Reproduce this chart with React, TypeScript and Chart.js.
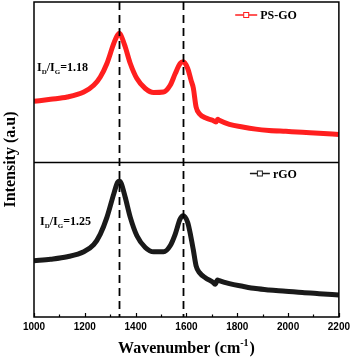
import React, { useEffect, useRef } from 'react';
import { Chart, registerables } from 'chart.js';

Chart.register(...registerables);

const xTicks = [1000, 1200, 1400, 1600, 1800, 2000, 2200];
const peakPositions = [1335, 1585];

const psgoWavenumber = [1000, 1065, 1131, 1196, 1235, 1261, 1287, 1314, 1329, 1336, 1343, 1359, 1379, 1405, 1438, 1471, 1510, 1536, 1556, 1575, 1587, 1605, 1618, 1627, 1638, 1651, 1677, 1703, 1716, 1723, 1729, 1769, 1821, 1873, 1925, 1991, 2056, 2122, 2200];
const psgoIntensity = [38.1, 39.4, 40.8, 43.9, 48.1, 53.3, 61.7, 74.2, 79.4, 80.6, 79.0, 72.1, 61.7, 52.3, 46.1, 43.6, 43.9, 48.1, 55.4, 61.7, 62.7, 58.6, 51.3, 46.5, 34.6, 30.4, 27.7, 26.3, 25.2, 26.9, 26.3, 23.8, 22.1, 20.8, 20.0, 19.4, 18.8, 18.3, 17.5];

const rgoWavenumber = [1000, 1065, 1131, 1196, 1235, 1261, 1287, 1314, 1329, 1336, 1343, 1359, 1379, 1405, 1438, 1471, 1510, 1536, 1556, 1575, 1587, 1605, 1618, 1627, 1638, 1651, 1677, 1703, 1713, 1722, 1729, 1769, 1821, 1873, 1925, 1991, 2056, 2122, 2200];
const rgoIntensity = [36.4, 37.4, 39.0, 42.2, 46.8, 53.7, 64.5, 79.7, 87.2, 87.8, 86.6, 77.5, 64.5, 52.6, 45.0, 42.2, 42.2, 46.1, 53.7, 63.4, 65.6, 61.2, 51.5, 43.5, 33.1, 28.8, 25.1, 22.7, 21.2, 24.0, 23.5, 21.6, 19.9, 18.4, 17.5, 16.7, 15.8, 15.1, 14.3];

const ratioLabels = ['1.18', '1.25'];
const seriesNames = ['PS-GO', 'rGO'];
const seriesColors = ['#ff1f1f', '#1a1a1a'];

const SERIF = '"Liberation Serif", "Times New Roman", serif';
const SANS = '"Liberation Sans", Arial, sans-serif';

function drawRatio(ctx: CanvasRenderingContext2D, x: number, y: number, value: string) {
  const main = `bold 12px ${SERIF}`;
  const sub = `bold 7px ${SERIF}`;
  ctx.fillStyle = '#000';
  ctx.textBaseline = 'alphabetic';
  ctx.textAlign = 'left';
  let cx = x;
  const piece = (t: string, font: string, dy: number) => {
    ctx.font = font;
    ctx.fillText(t, cx, y + dy);
    cx += ctx.measureText(t).width;
  };
  piece('I', main, 0);
  piece('D', sub, 3);
  piece('/I', main, 0);
  piece('G', sub, 3);
  piece('=' + value, main, 0);
}

function drawLegend(ctx: CanvasRenderingContext2D, xEnd: number, y: number, name: string, color: string, lineLen: number) {
  ctx.font = `bold 12px ${SERIF}`;
  const tw = ctx.measureText(name).width;
  const textX = xEnd - tw;
  const lineEnd = textX - 3;
  const lineStart = lineEnd - lineLen;
  ctx.strokeStyle = color;
  ctx.lineWidth = 1.5;
  ctx.beginPath();
  ctx.moveTo(lineStart, y);
  ctx.lineTo(lineEnd, y);
  ctx.stroke();
  const mx = (lineStart + lineEnd) / 2;
  ctx.fillStyle = '#ffffff';
  ctx.fillRect(mx - 2.5, y - 2.5, 5, 5);
  ctx.lineWidth = 1;
  ctx.strokeRect(mx - 2.5, y - 2.5, 5, 5);
  ctx.fillStyle = '#000';
  ctx.textBaseline = 'middle';
  ctx.textAlign = 'left';
  ctx.fillText(name, textX, y + 1);
}

const overlayPlugin = {
  id: 'overlay',
  afterDatasetsDraw(chart: any) {
    const { ctx, chartArea: a, scales } = chart;
    ctx.save();
    ctx.strokeStyle = '#000';
    ctx.lineWidth = 1.8;
    ctx.setLineDash([8, 5]);
    for (const w of peakPositions) {
      const px = Math.round(scales.x.getPixelForValue(w)) + 0.5;
      ctx.beginPath();
      ctx.moveTo(px, a.top);
      ctx.lineTo(px, a.bottom);
      ctx.stroke();
    }
    ctx.restore();
  },
  afterDraw(chart: any) {
    const { ctx, chartArea: a, scales } = chart;
    const topScale = scales.yTop;
    const botScale = scales.yBot;
    const divider = topScale.bottom;
    const topTop = topScale.top;
    const botTop = botScale.top;
    ctx.save();
    ctx.strokeStyle = '#000';
    ctx.lineWidth = 1.5;
    ctx.strokeRect(a.left, a.top, a.right - a.left, a.bottom - a.top);
    ctx.beginPath();
    ctx.moveTo(a.left, divider);
    ctx.lineTo(a.right, divider);
    ctx.stroke();
    ctx.lineWidth = 1.2;
    for (let w = 1000; w <= 2200; w += 100) {
      const px = Math.round(scales.x.getPixelForValue(w)) + 0.5;
      const len = w % 200 === 0 ? 4 : 2.5;
      ctx.beginPath();
      ctx.moveTo(px, a.bottom);
      ctx.lineTo(px, a.bottom - len);
      ctx.stroke();
    }
    drawLegend(ctx, a.right - 42, topTop + 13, seriesNames[0], seriesColors[0], 22);
    drawLegend(ctx, a.right - 42, botTop + 11, seriesNames[1], seriesColors[1], 20);
    drawRatio(ctx, a.left + 3, topTop + 69, ratioLabels[0]);
    drawRatio(ctx, a.left + 6, botTop + 62, ratioLabels[1]);
    ctx.fillStyle = '#000';
    ctx.textBaseline = 'alphabetic';
    ctx.textAlign = 'left';
    const mainFont = `bold 16px ${SERIF}`;
    const supFont = `bold 10px ${SERIF}`;
    ctx.font = mainFont;
    const t1 = 'Wavenumber (cm';
    const t3 = ')';
    const w1 = ctx.measureText(t1).width;
    const w3 = ctx.measureText(t3).width;
    ctx.font = supFont;
    const t2 = '-1';
    const w2 = ctx.measureText(t2).width;
    const total = w1 + w2 + w3 + 1;
    let cx = (a.left + a.right) / 2 - total / 2;
    const by = 353;
    ctx.font = mainFont;
    ctx.fillText(t1, cx, by);
    cx += w1;
    ctx.font = supFont;
    ctx.fillText(t2, cx, by - 7);
    cx += w2 + 1;
    ctx.font = mainFont;
    ctx.fillText(t3, cx, by);
    ctx.save();
    ctx.translate(11, (a.top + a.bottom) / 2);
    ctx.rotate(-Math.PI / 2);
    ctx.font = mainFont;
    ctx.textAlign = 'center';
    ctx.textBaseline = 'middle';
    ctx.fillText('Intensity (a.u)', 0, 0);
    ctx.restore();
    ctx.restore();
  },
};

export default function App() {
  const canvasRef = useRef<HTMLCanvasElement | null>(null);

  useEffect(() => {
    const canvas = canvasRef.current;
    if (!canvas) return;
    const hidden = {
      ticks: { display: false },
      grid: { display: false, drawTicks: false },
      border: { display: false },
    };
    const chart = new Chart(canvas, {
      type: 'line',
      data: {
        datasets: [
          {
            label: seriesNames[0],
            data: psgoWavenumber.map((w, i) => ({ x: w, y: psgoIntensity[i] })),
            yAxisID: 'yTop',
            borderColor: seriesColors[0],
            borderWidth: 5,
            pointRadius: 0,
            cubicInterpolationMode: 'monotone',
          },
          {
            label: seriesNames[1],
            data: rgoWavenumber.map((w, i) => ({ x: w, y: rgoIntensity[i] })),
            yAxisID: 'yBot',
            borderColor: seriesColors[1],
            borderWidth: 5,
            pointRadius: 0,
            cubicInterpolationMode: 'monotone',
          },
        ],
      },
      options: {
        animation: false,
        responsive: false,
        devicePixelRatio: 1,
        layout: { padding: { left: 34, right: 14, top: 2, bottom: 23 } },
        plugins: { legend: { display: false }, tooltip: { enabled: false } },
        scales: {
          x: {
            type: 'linear',
            min: 1000,
            max: 2200,
            afterBuildTicks: (scale: any) => {
              scale.ticks = xTicks.map((v) => ({ value: v }));
            },
            grid: { display: false, drawTicks: false },
            border: { display: false },
            ticks: {
              color: '#000',
              font: { family: SANS, size: 10, weight: 'bold' },
              padding: 4,
              maxRotation: 0,
              autoSkip: false,
              callback: (v: any) => String(v),
            },
          },
          yBot: {
            type: 'linear',
            position: 'left',
            stack: 'panels',
            stackWeight: 154,
            min: 0,
            max: 100,
            ...hidden,
          },
          yTop: {
            type: 'linear',
            position: 'left',
            stack: 'panels',
            stackWeight: 160,
            min: 0,
            max: 100,
            ...hidden,
          },
        },
      },
      plugins: [overlayPlugin],
    } as any);
    return () => chart.destroy();
  }, []);

  return (
    <div style={{ position: 'absolute', left: 0, top: 0, width: 354, height: 360, background: '#fff' }}>
      <canvas ref={canvasRef} width={354} height={360} style={{ width: 354, height: 360, display: 'block' }} />
    </div>
  );
}
